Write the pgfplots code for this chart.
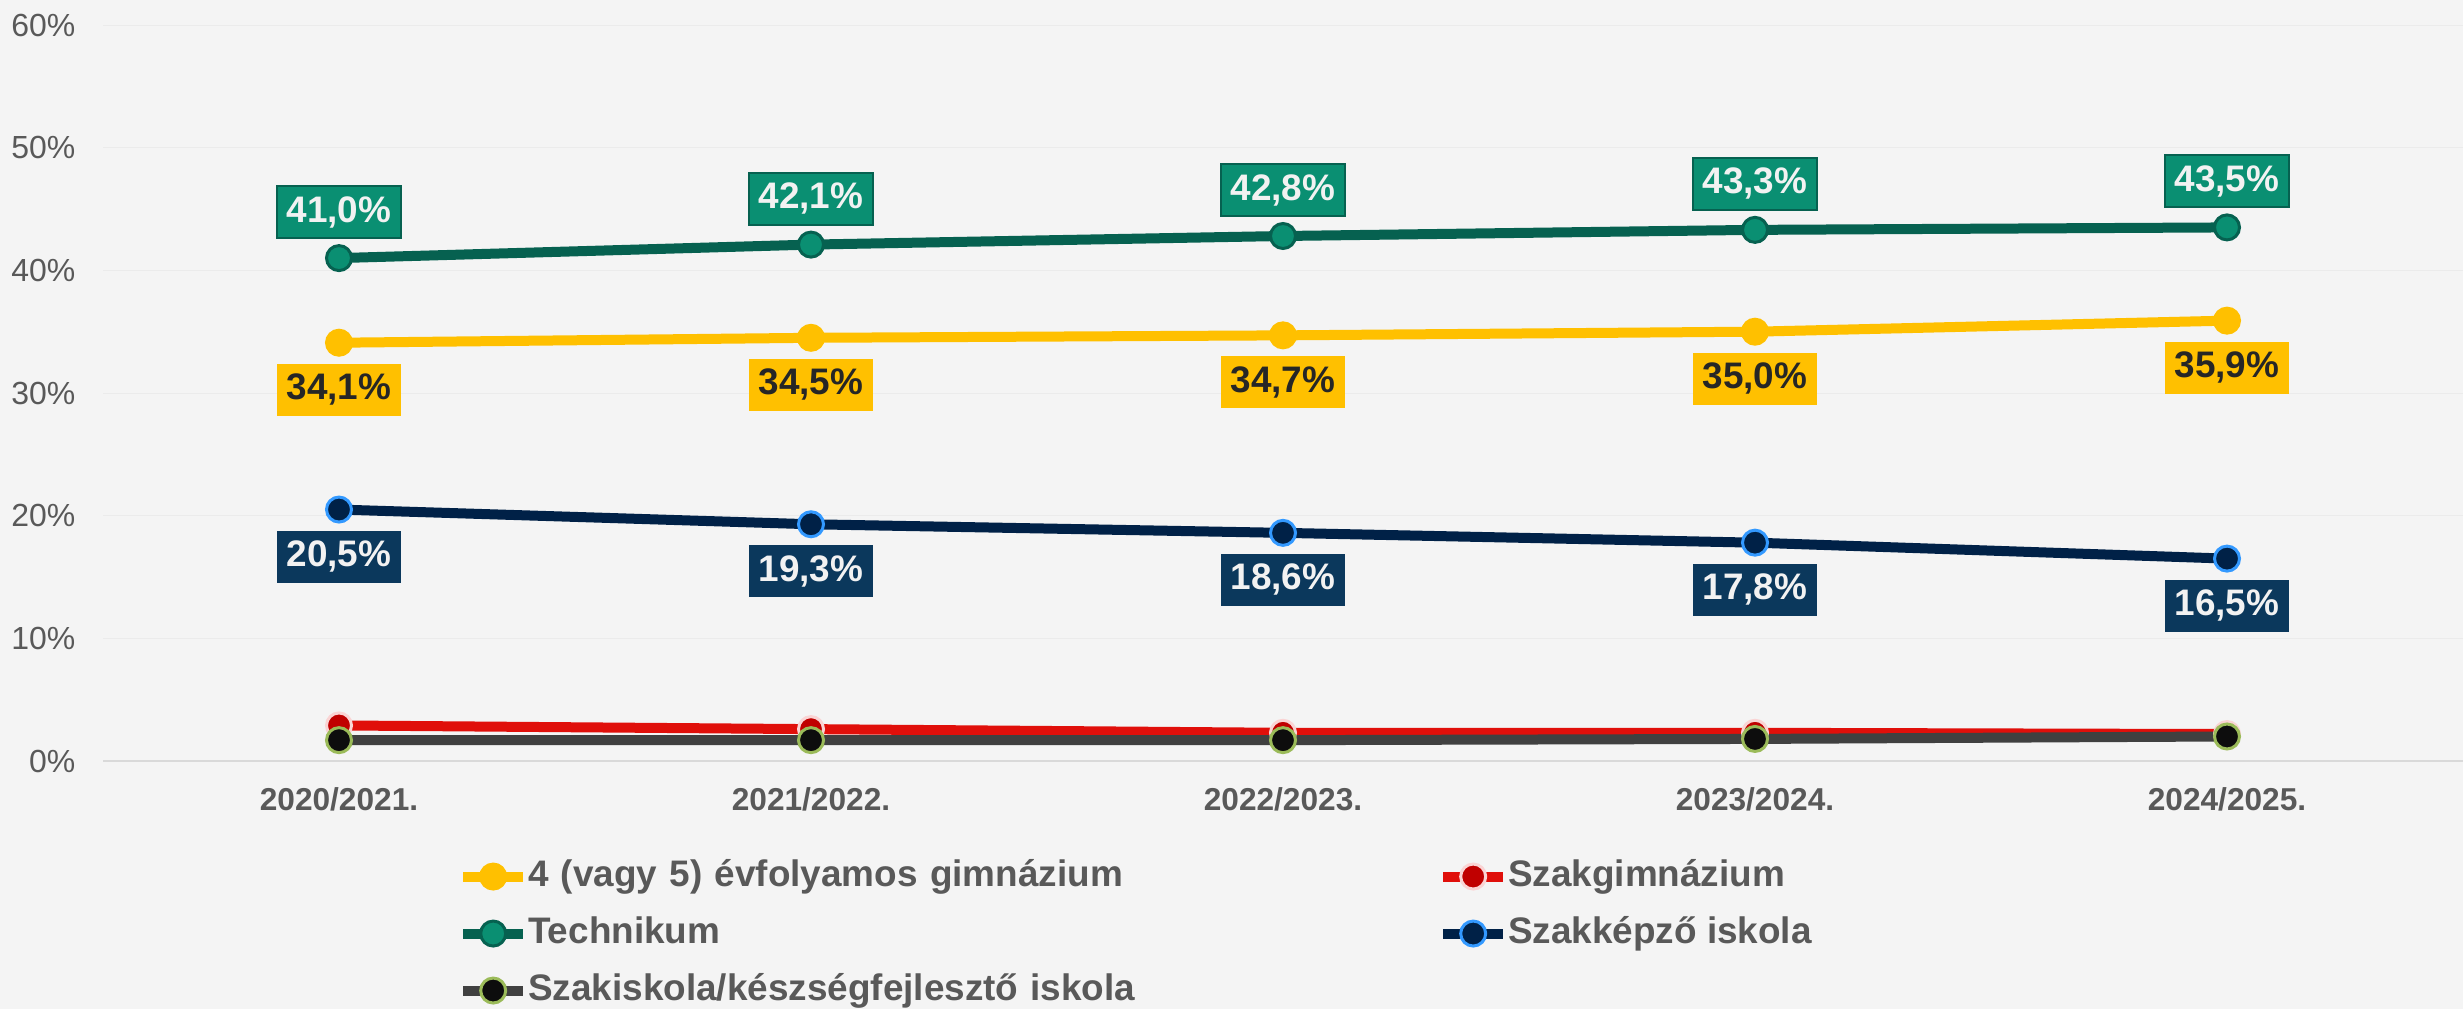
\documentclass[border=0pt]{standalone}
\usepackage{fontspec}
\setmainfont{Liberation Sans}
\usepackage{pgfplots}
\usepackage{pgfplotstable}
\pgfplotsset{compat=1.18}
\definecolor{bgc}{HTML}{F4F4F4}
\definecolor{gridc}{HTML}{EBEBEB}
\definecolor{zeroc}{HTML}{D9D9D9}
\definecolor{txtc}{HTML}{595959}
\definecolor{gold}{HTML}{FFC000}
\definecolor{techline}{HTML}{066150}
\definecolor{techfill}{HTML}{0A8F72}
\definecolor{redline}{HTML}{E00F0A}
\definecolor{redfill}{HTML}{C00000}
\definecolor{rededge}{HTML}{FAD4D4}
\definecolor{navy}{HTML}{002147}
\definecolor{navyedge}{HTML}{3399FF}
\definecolor{navylab}{HTML}{0B385C}
\definecolor{grayline}{HTML}{404040}
\definecolor{blackfill}{HTML}{0D0D0D}
\definecolor{greenedge}{HTML}{9BBB59}
\definecolor{darktxt}{HTML}{262626}
\definecolor{whitetxt}{HTML}{F2F2F2}

\pgfplotstableread{
x gim szg tech szk szi
0 34.1 2.9 41.0 20.5 1.7
1 34.5 2.6 42.1 19.3 1.7
2 34.7 2.3 42.8 18.6 1.7
3 35.0 2.3 43.3 17.8 1.8
4 35.9 2.2 43.5 16.5 2.0
}\data

\begin{document}
\begin{tikzpicture}
\path[use as bounding box, fill=bgc] (0,0) rectangle (24.63cm,10.09cm);
\begin{axis}[
  at={(1.03cm,2.48cm)}, anchor=south west,
  scale only axis, width=23.6cm, height=7.36cm,
  xmin=-0.5, xmax=4.5, ymin=0, ymax=60,
  xtick={0,...,4},
  xticklabels={2020/2021.,2021/2022.,2022/2023.,2023/2024.,2024/2025.},
  ytick={0,10,...,60},
  yticklabel={\pgfmathprintnumber{\tick}\%},
  /pgf/number format/assume math mode=true,
  axis line style={draw=none},
  major tick length=0pt,
  ymajorgrids, grid style={gridc, line width=0.1mm},
  yticklabel style={anchor=east, inner sep=0pt, xshift=-2.7mm, font=\fontsize{9.1}{11}\selectfont, text=txtc},
  xticklabel style={anchor=north, inner sep=0pt, yshift=-2.55mm, font=\fontsize{9}{11}\selectfont\bfseries, text=txtc},
  clip=false,
  legend columns=2,
  legend cell align=left,
  legend style={draw=none, fill=none, inner sep=0pt, outer sep=0pt,
     at={(0.1505,-0.1325)}, anchor=north west,
     font=\fontsize{10.5}{12}\selectfont\bfseries, text=txtc,
     nodes={inner sep=0pt, text height=2.8mm, text depth=0.8mm},
     row sep=2.1mm,
     /tikz/column 2/.style={nodes={text width=9.10cm, align=left}}},
  every axis plot/.append style={line width=1mm, mark=*, mark size=1.25mm},
  lab/.style={nodes near coords={\pgfmathprintnumber[fixed,fixed zerofill,precision=1,use comma]{\pgfplotspointmeta}\%},
     every node near coord/.append style={anchor=center, minimum width=12.4mm, minimum height=5.2mm,
        inner sep=0pt, font=\fontsize{10.5}{12}\selectfont\bfseries, #1}},
]
\draw[zeroc, line width=0.25mm] (axis cs:-0.5,0) -- (axis cs:4.5,0);
\addplot[gold, mark options={fill=gold, draw=gold, line width=0.3mm},
   lab={fill=gold, text=darktxt, yshift=-4.7mm}] table[x=x, y=gim] {\data};
\addlegendentry{4 (vagy 5) évfolyamos gimnázium}
\addplot[redline, mark options={fill=redfill, draw=rededge, line width=0.3mm}] table[x=x, y=szg] {\data};
\addlegendentry{Szakgimnázium}
\addplot[techline, mark options={fill=techfill, draw=techline, line width=0.3mm},
   lab={fill=techfill, draw=techline, line width=0.2mm, text=whitetxt, yshift=4.6mm}] table[x=x, y=tech] {\data};
\addlegendentry{Technikum}
\addplot[navy, mark options={fill=navy, draw=navyedge, line width=0.3mm},
   lab={fill=navylab, text=whitetxt, yshift=-4.7mm}] table[x=x, y=szk] {\data};
\addlegendentry{Szakképző iskola}
\addplot[grayline, mark options={fill=blackfill, draw=greenedge, line width=0.3mm}] table[x=x, y=szi] {\data};
\addlegendentry{Szakiskola/készségfejlesztő iskola}
\end{axis}
\end{tikzpicture}
\end{document}
